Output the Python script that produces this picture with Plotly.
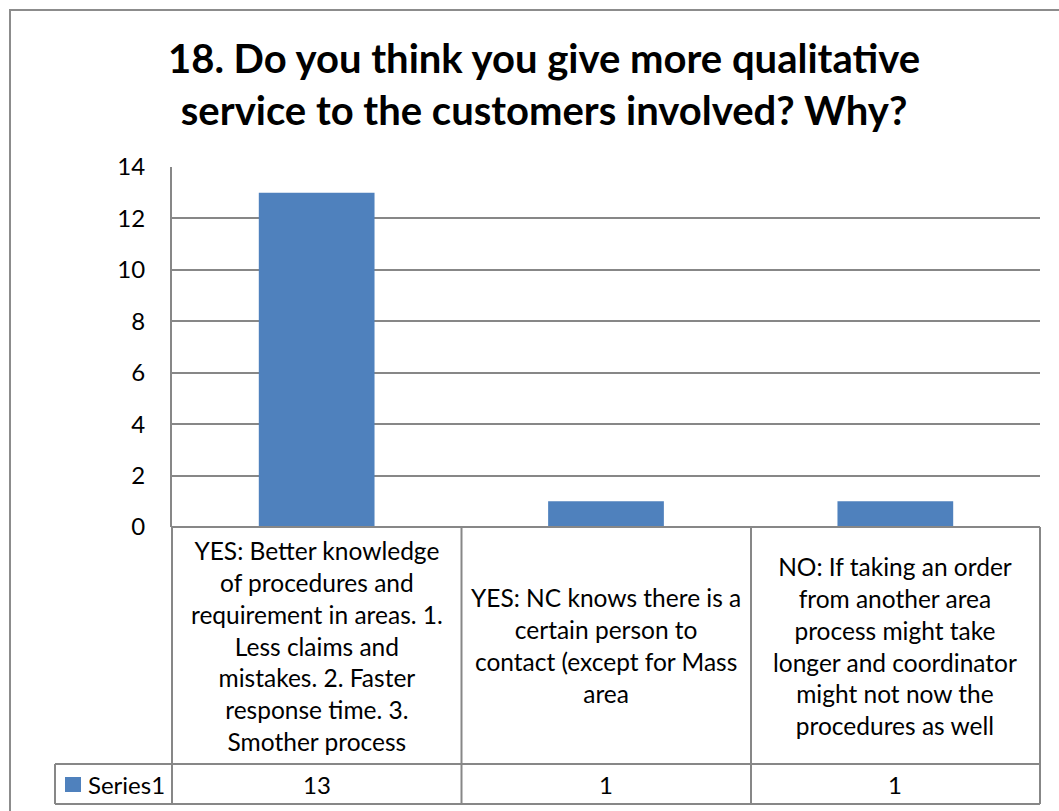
import plotly.graph_objects as go

# Survey answers and counts
categories = [
    "YES: Better knowledge<br>of procedures and<br>requirement in areas. 1.<br>Less claims and<br>mistakes. 2. Faster<br>response time. 3.<br>Smother process",
    "YES: NC knows there is a<br>certain person to<br>contact (except for Mass<br>area",
    "NO: If taking an order<br>from another area<br>process might take<br>longer and coordinator<br>might not now the<br>procedures as well",
]
series_name = "Series1"
values = [13, 1, 1]
y_ticks = [0, 2, 4, 6, 8, 10, 12, 14]
title_lines = [
    "18. Do you think you give more qualitative",
    "service to the customers involved? Why?",
]

W, H = 1059, 811
FONT = "Lato"
GRID = "#878787"
BAR = "#4F81BD"


def px(x):
    return x / W


def py(y):
    return 1 - y / H


# plot-area and data-table geometry (pixels)
plot_l, plot_r, plot_t, plot_b = 172, 1040, 167, 527
row_sep, table_b, legend_l = 764, 804, 55
col_edges = [172, 461.5, 751, 1040]

fig = go.Figure(
    go.Bar(
        x=list(range(len(values))),
        y=values,
        width=0.4,
        marker=dict(color=BAR, line=dict(width=0)),
        name=series_name,
        showlegend=False,
    )
)

shapes = []
# outer chart frame
shapes.append(dict(type="rect", xref="paper", yref="paper",
                   x0=px(10), y0=py(10), x1=px(W + 20), y1=py(H + 20),
                   line=dict(color="#8C8C8C", width=2)))
# data table horizontal lines
for y, x0 in [(plot_b, plot_l), (row_sep, legend_l), (table_b, legend_l)]:
    shapes.append(dict(type="line", xref="paper", yref="paper",
                       x0=px(x0), x1=px(plot_r), y0=py(y), y1=py(y),
                       line=dict(color=GRID, width=2)))
# data table vertical lines
for x in col_edges:
    shapes.append(dict(type="line", xref="paper", yref="paper",
                       x0=px(x), x1=px(x), y0=py(plot_b), y1=py(table_b),
                       line=dict(color=GRID, width=2)))
shapes.append(dict(type="line", xref="paper", yref="paper",
                   x0=px(legend_l), x1=px(legend_l), y0=py(row_sep), y1=py(table_b),
                   line=dict(color=GRID, width=2)))
# legend key in the series row
shapes.append(dict(type="rect", xref="paper", yref="paper",
                   x0=px(65), x1=px(81), y0=py(777), y1=py(792),
                   fillcolor=BAR, line=dict(width=0)))

annotations = []
for i, (cat, v) in enumerate(zip(categories, values)):
    annotations.append(dict(x=i, y=py((plot_b + row_sep) / 2), xref="x", yref="paper",
                            text=cat, showarrow=False, align="center",
                            xanchor="center", yanchor="middle",
                            font=dict(family=FONT, size=24.5, color="#000000")))
    annotations.append(dict(x=i, y=py((row_sep + table_b) / 2), xref="x", yref="paper",
                            text=str(v), showarrow=False,
                            xanchor="center", yanchor="middle",
                            font=dict(family=FONT, size=24, color="#000000")))
annotations.append(dict(x=px(86), y=py((row_sep + table_b) / 2), xref="paper", yref="paper",
                        text=series_name, showarrow=False,
                        xanchor="left", yanchor="middle",
                        font=dict(family=FONT, size=24, color="#000000")))
annotations.append(dict(x=px(544), y=py(84), xref="paper", yref="paper",
                        text="<br>".join(title_lines), showarrow=False,
                        xanchor="center", yanchor="middle",
                        font=dict(family=FONT, size=40, color="#000000", weight="bold")))

fig.update_layout(
    width=W, height=H, autosize=False,
    margin=dict(l=0, r=0, t=0, b=0, pad=0, autoexpand=False),
    paper_bgcolor="white", plot_bgcolor="white",
    xaxis=dict(domain=[px(plot_l), px(plot_r)], range=[-0.5, 2.5],
               showticklabels=False, showgrid=False, zeroline=False,
               automargin=False, fixedrange=True),
    yaxis=dict(domain=[py(plot_b), py(plot_t)], range=[0, 14],
               tickvals=y_ticks, showgrid=True, gridcolor=GRID, gridwidth=2,
               zeroline=False, showline=True, linecolor=GRID, linewidth=2,
               ticks="", ticklabelstandoff=20, automargin=False,
               tickfont=dict(family=FONT, size=24, color="#000000"),
               fixedrange=True),
    shapes=shapes,
    annotations=annotations,
    bargap=0.6,
)

fig.write_html("out.html")
